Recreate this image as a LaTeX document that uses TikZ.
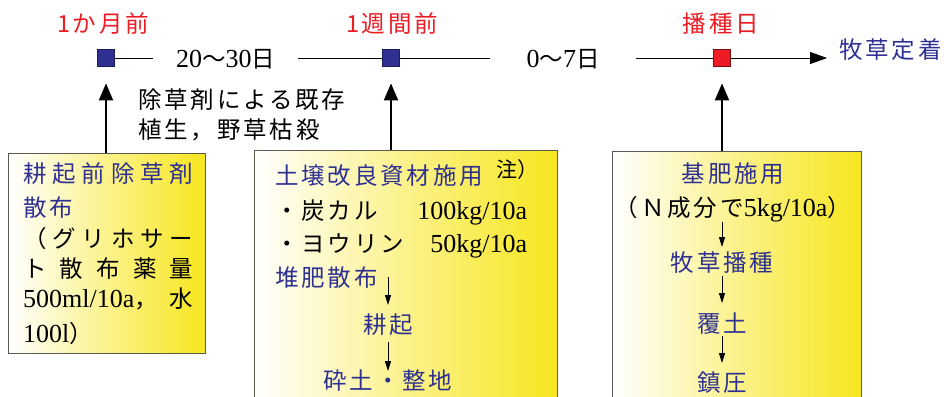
\documentclass[tikz,border=0pt]{standalone}
\usepackage{fontspec}
\setmainfont{Liberation Serif}
\newfontfamily\jpf{Noto Sans CJK JP}[LetterSpace=12]
\newfontfamily\jpsmall{Noto Sans CJK JP}
\usetikzlibrary{arrows.meta}
\definecolor{tred}{RGB}{237,28,36}
\definecolor{tblue}{RGB}{46,49,146}
\definecolor{yel}{RGB}{247,230,30}
\definecolor{bord}{RGB}{90,90,80}
\newcommand\LatTxt[1]{{\fontsize{26}{30}\selectfont\rmfamily #1}}
\tikzset{
  jp/.style={font=\fontsize{23.5}{28}\selectfont\jpf, inner sep=0pt},
  btxt/.style={jp, text=tblue},
  ktxt/.style={jp, text=black},
  rtxt/.style={jp, text=tred},
  notetxt/.style={font=\fontsize{21}{24}\selectfont\jpsmall, inner sep=0pt, text=black},
  box/.style={draw=bord, line width=0.8pt, left color=white, right color=yel, middle color=yel!52, inner sep=0pt},
  sq/.style={minimum size=17pt, inner sep=0pt, line width=0.8pt},
  bsq/.style={sq, fill=tblue, draw=tblue!60!black},
  rsq/.style={sq, fill=tred, draw=tred!50!black},
  tl/.style={line width=0.8pt},
  uparrow/.style={line width=2pt, -{Triangle[length=17pt,width=14pt]}},
  sarrow/.style={line width=0.9pt, -{Triangle[length=10pt,width=6pt]}}
}
\begin{document}
\begin{tikzpicture}[x=1pt,y=-1pt]
\useasboundingbox (0,0) rectangle (944,396);
\begin{scope}
\clip (0,0) rectangle (944,396);
% boxes
\node[box, anchor=north west, minimum width=197pt, minimum height=200pt] (b1) at (8,153) {};
\node[box, anchor=north west, minimum width=303pt, minimum height=260pt] (b2) at (254,150) {};
\node[box, anchor=north west, minimum width=249pt, minimum height=260pt] (b3) at (612,151) {};
% timeline
\node[bsq] (m1) at (106,58) {};
\node[bsq] (m2) at (391,58) {};
\node[rsq] (m3) at (722,58) {};
\node[rtxt, anchor=base] (l1) at (103,32.5) {1か月前};
\node[rtxt, anchor=base] (l2) at (392,32.5) {1週間前};
\node[rtxt, anchor=base] (l3) at (721,32.5) {播種日};
\node[ktxt, anchor=base, minimum width=145pt] (d1) at (225.5,67) {\LatTxt{20}〜\LatTxt{30}日};
\node[ktxt, anchor=base, minimum width=146pt] (d2) at (563,67) {\LatTxt{0}〜\LatTxt{7}日};
\node[btxt, anchor=base west] (goal) at (839,59) {牧草定着};
\draw[tl] (m1) -- (m1 -| d1.west);
\draw[tl] (m2 -| d1.east) -- (m2);
\draw[tl] (m2) -- (m2 -| d2.west);
\draw[tl] (m3 -| d2.east) -- (m3);
\draw[tl, -{Triangle[length=17pt,width=12pt]}, shorten >=12pt] (m3) -- (m3 -| goal.west);
% up arrows
\draw[uparrow] (m1 |- b1.north) -- ([yshift=-16.5pt]m1.south);
\draw[uparrow] (m2 |- b2.north) -- ([yshift=-16.5pt]m2.south);
\draw[uparrow] (m3 |- b3.north) -- ([yshift=-16.5pt]m3.south);
% note text
\node[ktxt, anchor=base west] (n1) at (138,108) {除草剤による既存};
\node[ktxt, anchor=base west] (n2) at (138,138) {植生，野草枯殺};
% left box
\node[btxt, anchor=base west] (a1) at (23,182) {\makebox[170pt][l]{耕\hfill 起\hfill 前\hfill 除\hfill 草\hfill 剤}};
\node[btxt, anchor=base west] (a2) at (23,216) {散布};
\node[ktxt, anchor=base west] (a3) at (23,247) {\makebox[170pt][l]{（\hfill グ\hfill リ\hfill ホ\hfill サ\hfill ー}};
\node[ktxt, anchor=base west] (a4) at (23,277) {\makebox[170pt][l]{ト\hfill 散\hfill 布\hfill 薬\hfill 量}};
\node[ktxt, anchor=base west] (a5) at (23,307) {\makebox[170pt][l]{\LatTxt{500ml/10a}，\hfill 水}};
\node[ktxt, anchor=base west] (a6) at (23,342) {\LatTxt{100l}）};
% middle box
\node[btxt, anchor=base west] (c1) at (275,184) {土壌改良資材施用};
\node[notetxt, anchor=base west] (c0) at (496,177) {注）};
\node[ktxt, anchor=base west] (c2) at (275,219) {\makebox[252pt][l]{・炭カル\hfill\LatTxt{100kg/10a}}};
\node[ktxt, anchor=base west] (c3) at (275,252) {\makebox[252pt][l]{・ヨウリン\hfill\LatTxt{50kg/10a}}};
\node[btxt, anchor=base west] (c4) at (275,286) {堆肥散布};
\node[btxt, anchor=base] (c5) at (388,333) {耕起};
\node[btxt, anchor=base] (c6) at (388,389) {砕土・整地};
\draw[sarrow] (c5.north |- c4) -- ([yshift=8pt]c5.north);
\draw[sarrow] ([yshift=-7pt]c5.south) -- ([yshift=-2pt]c6.north);
% right box
\node[btxt, anchor=base] (e1) at (733,182) {基肥施用};
\node[ktxt, anchor=base] (e2) at (733,216) {（Ｎ成分で\LatTxt{5kg/10a}）};
\node[btxt, anchor=base] (e3) at (722,271) {牧草播種};
\node[btxt, anchor=base] (e4) at (722,332) {覆土};
\node[btxt, anchor=base] (e5) at (722,391) {鎮圧};
\draw[sarrow] (e3 |- e2.south) -- ([yshift=4pt]e3.north);
\draw[sarrow] ([yshift=-3pt]e3.south) -- ([yshift=9pt]e4.north);
\draw[sarrow] ([yshift=-2pt]e4.south) -- ([yshift=8pt]e5.north);
\end{scope}
\end{tikzpicture}
\end{document}
